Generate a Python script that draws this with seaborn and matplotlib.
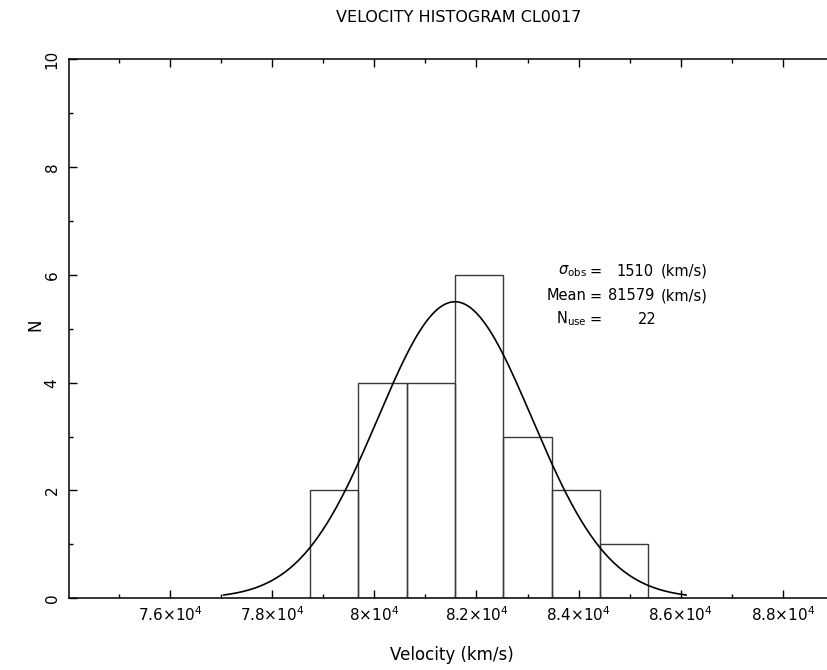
import numpy as np
import matplotlib
matplotlib.use("Agg")
import matplotlib.pyplot as plt
import seaborn as sns
from matplotlib.ticker import MultipleLocator

# Histogram bins (km/s) and counts
bin_edges = [78740, 79687, 80633, 81581, 82526, 83473, 84420, 85366]
counts = [2, 4, 4, 6, 3, 2, 1]

# Fit parameters shown in the annotation
sigma_obs = 1510
mean_vel = 81579
n_use = 22

x_ticks = [76000, 78000, 80000, 82000, 84000, 86000, 88000]
x_tick_labels = ["7.6×10$^4$", "7.8×10$^4$", "8×10$^4$", "8.2×10$^4$",
                 "8.4×10$^4$", "8.6×10$^4$", "8.8×10$^4$"]
y_ticks = [0, 2, 4, 6, 8, 10]

sns.set_style("ticks")
plt.rcParams["font.family"] = ["DejaVu Sans"]
plt.rcParams["text.color"] = "black"
plt.rcParams["xtick.color"] = "black"
plt.rcParams["ytick.color"] = "black"

W, H = 828, 670
fig = plt.figure(figsize=(W / 100, H / 100), dpi=100)
ax = fig.add_axes([69.3 / W, 1 - 598.3 / H, (834 - 69.3) / W, (598.3 - 59.3) / H])

bin_centers = [(a + b) / 2 for a, b in zip(bin_edges[:-1], bin_edges[1:])]
sns.histplot(x=bin_centers, weights=counts, bins=bin_edges, fill=False,
             color="#3a3a3a", linewidth=1.0, ax=ax)

# Gaussian model from the annotated mean / sigma, scaled to the histogram
bin_width = (bin_edges[-1] - bin_edges[0]) / len(counts)
xs = np.linspace(mean_vel - 3 * sigma_obs, mean_vel + 3 * sigma_obs, 300)
ys = n_use * bin_width / (sigma_obs * np.sqrt(2 * np.pi)) * np.exp(-0.5 * ((xs - mean_vel) / sigma_obs) ** 2)
sns.lineplot(x=xs, y=ys, color="black", linewidth=1.2, ax=ax)

ax.set_xlim(74030, 89000)
ax.set_ylim(0, 10)
ax.set_xticks(x_ticks)
ax.set_xticklabels(x_tick_labels, fontsize=11)
ax.set_yticks(y_ticks)
ax.set_yticklabels([str(v) for v in y_ticks], rotation=90, va="center", fontsize=11)
ax.xaxis.set_minor_locator(MultipleLocator(1000))
ax.yaxis.set_minor_locator(MultipleLocator(1))
ax.tick_params(which="both", direction="in", top=True, right=False, color="black", width=1)
ax.tick_params(which="major", length=6)
ax.tick_params(which="minor", length=3)
ax.tick_params(axis="x", which="major", pad=5)
ax.tick_params(axis="y", which="major", pad=7)
ax.set_xlabel("")
ax.set_ylabel("")
for s in ax.spines.values():
    s.set_linewidth(1.1)
    s.set_color("black")

def fx(px):
    return px / W

def fy(py):
    return 1 - py / H

fig.text(fx(459), fy(17), "VELOCITY HISTOGRAM CL0017", ha="center", va="center", fontsize=11.5)
fig.text(fx(452), fy(655), "Velocity (km/s)", ha="center", va="center", fontsize=12)
fig.text(fx(35), fy(325), "N", ha="center", va="center", rotation=90, fontsize=12)

# annotation block
rows = [(r"$\sigma_{\rm obs}$", str(sigma_obs), "(km/s)", 271, 654),
        ("Mean", str(mean_vel), "(km/s)", 296, 654),
        (r"N$_{\rm use}$", str(n_use), "", 319, 657)]
for name, val, unit, py, vx in rows:
    fig.text(fx(587), fy(py), name, ha="right", va="center", fontsize=10.5)
    fig.text(fx(596), fy(py), "=", ha="center", va="center", fontsize=10.5)
    fig.text(fx(vx), fy(py), val, ha="right", va="center", fontsize=10.5)
    if unit:
        fig.text(fx(661), fy(py), unit, ha="left", va="center", fontsize=10.5)

fig.savefig("out.png", dpi=100)
